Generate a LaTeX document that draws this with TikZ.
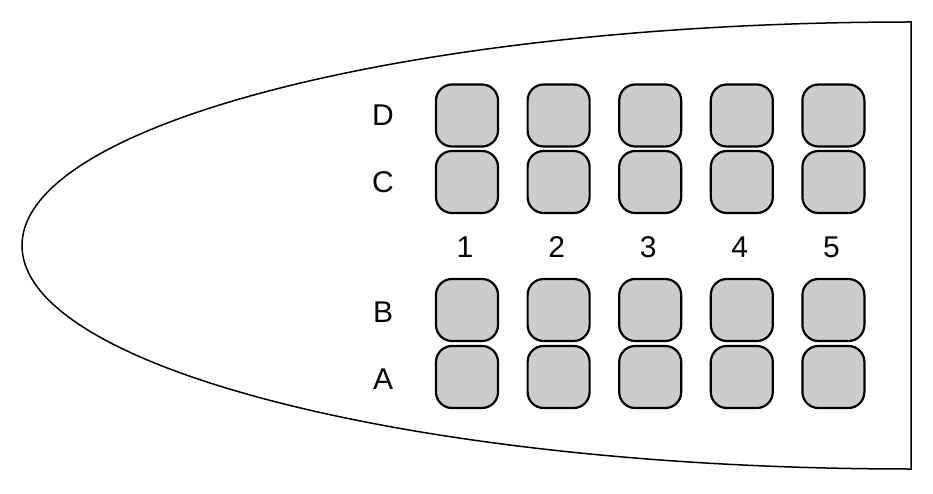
\documentclass[tikz,border=0pt]{standalone}
\usepackage{fontspec}
\setmainfont{Liberation Sans}
\begin{document}
\begin{tikzpicture}[x=1pt,y=1pt,
  seat/.style={draw=black, line width=2.2pt, fill=black!20, rounded corners=16pt,
    minimum width=62pt, minimum height=62pt, inner sep=0pt},
  lbl/.style={font=\fontsize{30}{35}\selectfont, inner sep=0pt, anchor=base}]
\useasboundingbox (0,0) rectangle (933,493);
\draw[line width=1.5pt] (911,471) coordinate (top)
  arc[start angle=90, end angle=270, x radius=889, y radius=223.5] coordinate (bot) -- cycle;
\foreach \i in {1,...,5}{
  \pgfmathsetmacro{\cx}{467+91.6*(\i-1)}
  \node[seat] (D\i) at (\cx,377.5) {};
  \node[seat] (C\i) at (\cx,311) {};
  \node[seat] (B\i) at (\cx,183) {};
  \node[seat] (A\i) at (\cx,116) {};
  \node[lbl] (n\i) at (\cx-2,236) {\i};
}
\node[lbl] (lD) at (383,367) {D};
\node[lbl] (lC) at (383,300) {C};
\node[lbl] (lB) at (383,171) {B};
\node[lbl] (lA) at (383,104) {A};
\end{tikzpicture}
\end{document}
